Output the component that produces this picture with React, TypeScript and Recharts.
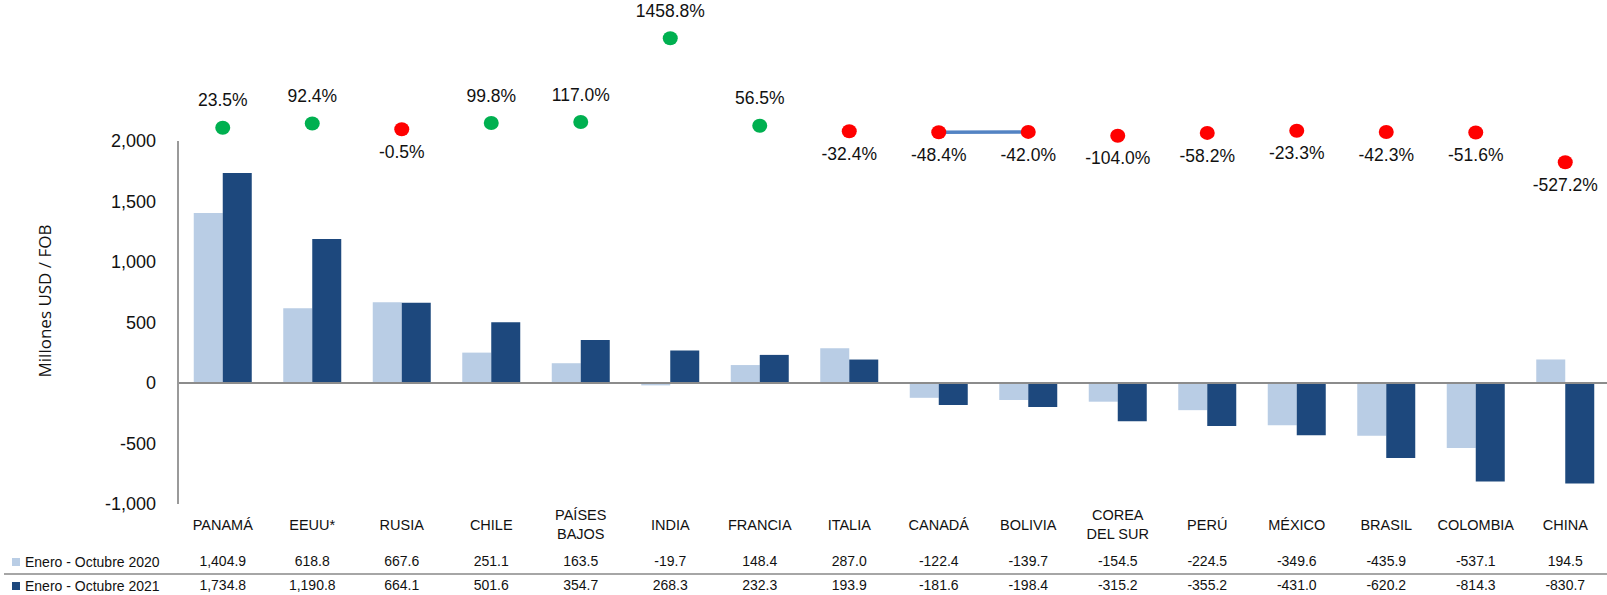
import React from 'react';
import { ComposedChart, Bar, Line, XAxis, YAxis, ReferenceLine, LabelList, Label } from 'recharts';

// categories (multi-line labels split on \n)
const countries = [
  'PANAMÁ', 'EEUU*', 'RUSIA', 'CHILE', 'PAÍSES\nBAJOS', 'INDIA', 'FRANCIA', 'ITALIA',
  'CANADÁ', 'BOLIVIA', 'COREA\nDEL SUR', 'PERÚ', 'MÉXICO', 'BRASIL', 'COLOMBIA', 'CHINA',
];

const seriesNames = ['Enero - Octubre 2020', 'Enero - Octubre 2021'];

const values2020 = [1404.9, 618.8, 667.6, 251.1, 163.5, -19.7, 148.4, 287.0, -122.4, -139.7, -154.5, -224.5, -349.6, -435.9, -537.1, 194.5];
const values2021 = [1734.8, 1190.8, 664.1, 501.6, 354.7, 268.3, 232.3, 193.9, -181.6, -198.4, -315.2, -355.2, -431.0, -620.2, -814.3, -830.7];

// % variation 2021 vs 2020
const variation = [23.5, 92.4, -0.5, 99.8, 117.0, 1458.8, 56.5, -32.4, -48.4, -42.0, -104.0, -58.2, -23.3, -42.3, -51.6, -527.2];

// the two variation points joined by a line in the original
const linkedPair = ['CANADÁ', 'BOLIVIA'];

const yTicks = [-1000, -500, 0, 500, 1000, 1500, 2000];

const LIGHT = '#B9CDE5';
const DARK = '#1D487D';
const FONT = "'Liberation Sans', Arial, sans-serif";

const data = countries.map((c, i) => ({
  country: c,
  v2020: values2020[i],
  v2021: values2021[i],
  variation: variation[i],
  link: linkedPair.includes(c) ? variation[i] : null,
}));

const fmt = (v: number) => v.toLocaleString('en-US', { minimumFractionDigits: 1, maximumFractionDigits: 1 });

const CountryTick = (props: any) => {
  const { x, y, payload } = props;
  const i = payload.index;
  const lines = countries[i].split('\n');
  const common = { x, textAnchor: 'middle' as const, dominantBaseline: 'middle' as const, fontSize: 14, fill: '#111', fontFamily: FONT };
  return (
    <g>
      {lines.length === 1
        ? <text {...common} y={y + 22} fontSize={14.5}>{lines[0]}</text>
        : lines.map((l, k) => <text key={k} {...common} y={y + 12 + k * 19} fontSize={14.5}>{l}</text>)}
      <text {...common} y={y + 58}>{fmt(values2020[i])}</text>
      <text {...common} y={y + 82}>{fmt(values2021[i])}</text>
    </g>
  );
};

const VarDot = (props: any) => {
  const { cx, cy, value, index } = props;
  if (cx == null || cy == null) return <g key={index} />;
  return <ellipse key={index} cx={cx} cy={cy} rx={7.5} ry={7} fill={value >= 0 ? '#00B050' : '#FF0000'} />;
};

const VarLabel = (props: any) => {
  const { x, y, value } = props;
  const up = Number(value) >= 0;
  return (
    <text x={x} y={up ? y - 26 : y + 24} textAnchor="middle" dominantBaseline="middle"
      fontSize={17.5} fill="#111" fontFamily={FONT}>
      {Number(value).toFixed(1)}%
    </text>
  );
};

export default function App() {
  return (
    <div style={{ position: 'absolute', left: 0, top: 0, width: 1607, height: 595, overflow: 'hidden', background: '#fff', fontFamily: FONT }}>
      <ComposedChart width={1612} height={595} data={data}
        margin={{ top: 20, right: 2, bottom: 0, left: 0 }}
        barCategoryGap="17.6%" barGap={0}>
        <XAxis dataKey="country" axisLine={false} tickLine={false} tickSize={0} tickMargin={0}
          height={91} interval={0} tick={<CountryTick />} />
        <YAxis yAxisId="left" domain={[-1000, 3000]} ticks={yTicks} interval={0} width={178}
          tickLine={false} tickMargin={16}
          axisLine={{ stroke: '#9A9A9A', strokeWidth: 2, strokeDasharray: '0 121 363 200' }}
          tick={{ fontSize: 18, fill: '#111', fontFamily: FONT }}
          tickFormatter={(v: number) => v.toLocaleString('en-US')}>
          <Label content={({ viewBox }: any) => (
            <text transform={`translate(${viewBox.x + 46}, ${viewBox.y + 281}) rotate(-90)`}
              textAnchor="middle" dominantBaseline="middle" fontSize={17}
              fontFamily="'Open Sans', sans-serif" fill="#111">Millones USD / FOB</text>
          )} />
        </YAxis>
        <YAxis yAxisId="pct" orientation="right" domain={[-6000, 1750]} hide />
        <Bar yAxisId="left" dataKey="v2020" name={seriesNames[0]} fill={LIGHT} isAnimationActive={false} />
        <Bar yAxisId="left" dataKey="v2021" name={seriesNames[1]} fill={DARK} isAnimationActive={false} />
        <ReferenceLine yAxisId="left" y={0} stroke="#8C8C8C" strokeWidth={2} />
        <Line yAxisId="pct" dataKey="link" stroke="#5383C3" strokeWidth={3.5} dot={false}
          activeDot={false} isAnimationActive={false} />
        <Line yAxisId="pct" dataKey="variation" stroke="none" dot={<VarDot />} activeDot={false}
          isAnimationActive={false}>
          <LabelList dataKey="variation" content={<VarLabel />} />
        </Line>
      </ComposedChart>

      {seriesNames.map((name, k) => (
        <div key={name} style={{ position: 'absolute', left: 12, top: 554 + k * 24, height: 16, display: 'flex', alignItems: 'center' }}>
          <span style={{ width: 8, height: 8, background: k === 0 ? LIGHT : DARK, marginRight: 5 }} />
          <span style={{ fontSize: 14, color: '#111', lineHeight: '16px' }}>{name}</span>
        </div>
      ))}
      <div style={{ position: 'absolute', left: 4, top: 573, width: 1603, height: 2, background: '#A6A6A6' }} />
    </div>
  );
}
